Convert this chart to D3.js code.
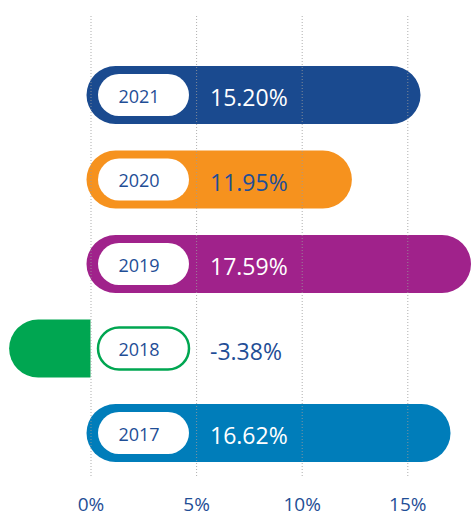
<!DOCTYPE html>
<html>
<head>
<meta charset="utf-8">
<script src="https://cdn.jsdelivr.net/npm/d3@7"></script>
<style>
  body { margin: 0; background: #fff; }
  text { font-family: "Open Sans", sans-serif; }
</style>
</head>
<body>
<svg width="475" height="517"></svg>
<script>
// chart data
const years = ['2021', '2020', '2019', '2018', '2017'];
const growth = [15.20, 11.95, 17.59, -3.38, 16.62];
const barColors = ['#1a4a8f', '#f6921e', '#a0228b', '#00a651', '#007dba'];
const valueColors = ['#ffffff', '#1f4e96', '#ffffff', '#1f4e96', '#ffffff'];
const ticks = [0, 5, 10, 15];

const svg = d3.select('svg');
const data = years.map((y, i) => ({ year: y, value: growth[i], color: barColors[i], textColor: valueColors[i] }));

const xScale = d3.scaleLinear().domain([0, 15]).range([90.5, 407.3]);
const yScale = d3.scalePoint().domain(years).range([95, 433]);

const barH = 58;
const r = barH / 2;
const x0 = xScale(0);

// pill shaped bars, flat edge at zero for the negative one
const barPath = d => {
  const cy = yScale(d.year);
  const top = cy - r, bot = cy + r;
  if (d.value >= 0) {
    const left = x0 - 4, right = xScale(d.value) + 9;
    return `M${left + r},${top} H${right - r} A${r},${r} 0 0 1 ${right - r},${bot} H${left + r} A${r},${r} 0 0 1 ${left + r},${top} Z`;
  }
  const left = xScale(d.value) - 10;
  return `M${left + r},${top} H${x0} V${bot} H${left + r} A${r},${r} 0 0 1 ${left + r},${top} Z`;
};

svg.append('g').selectAll('path').data(data)
  .enter().append('path')
    .attr('d', barPath)
    .attr('fill', d => d.color);

// year labels in white pills
const pills = svg.append('g').selectAll('g').data(data)
  .enter().append('g')
    .attr('transform', d => `translate(${x0 + 7.5},${yScale(d.year)})`);

pills.append('rect')
  .attr('x', 0)
  .attr('y', -21)
  .attr('width', 91)
  .attr('height', 42)
  .attr('rx', 21)
  .attr('fill', '#fff')
  .attr('stroke', d => d.value < 0 ? d.color : 'none')
  .attr('stroke-width', 2.5);

pills.append('text')
  .attr('x', 41)
  .attr('y', 1.5)
  .attr('dy', '0.35em')
  .attr('text-anchor', 'middle')
  .attr('fill', '#1f4e96')
  .style('font-size', '18px')
  .text(d => d.year);

// value labels
svg.append('g').selectAll('text').data(data)
  .enter().append('text')
    .attr('x', x0 + 119.5)
    .attr('y', d => yScale(d.year) + 3)
    .attr('dy', '0.35em')
    .attr('fill', d => d.textColor)
    .style('font-size', '23px')
    .text(d => d.value.toFixed(2) + '%');

// dotted grid lines and tick labels
const axisY = 476;
const xAxis = d3.axisBottom(xScale)
  .tickValues(ticks)
  .tickFormat(d => d + '%')
  .tickSize(-(axisY - 15))
  .tickPadding(22);

const xAxisG = svg.append('g')
  .attr('transform', `translate(0,${axisY})`)
  .call(xAxis);
xAxisG.select('.domain').remove();
xAxisG.selectAll('.tick line')
  .attr('stroke', '#9a9a9a')
  .attr('stroke-opacity', 0.8)
  .attr('stroke-dasharray', '1,2');
xAxisG.selectAll('.tick text')
  .attr('fill', '#1f4e96')
  .style('font-size', '19px')
  .style('font-family', '"Open Sans", sans-serif');
</script>
</body>
</html>
